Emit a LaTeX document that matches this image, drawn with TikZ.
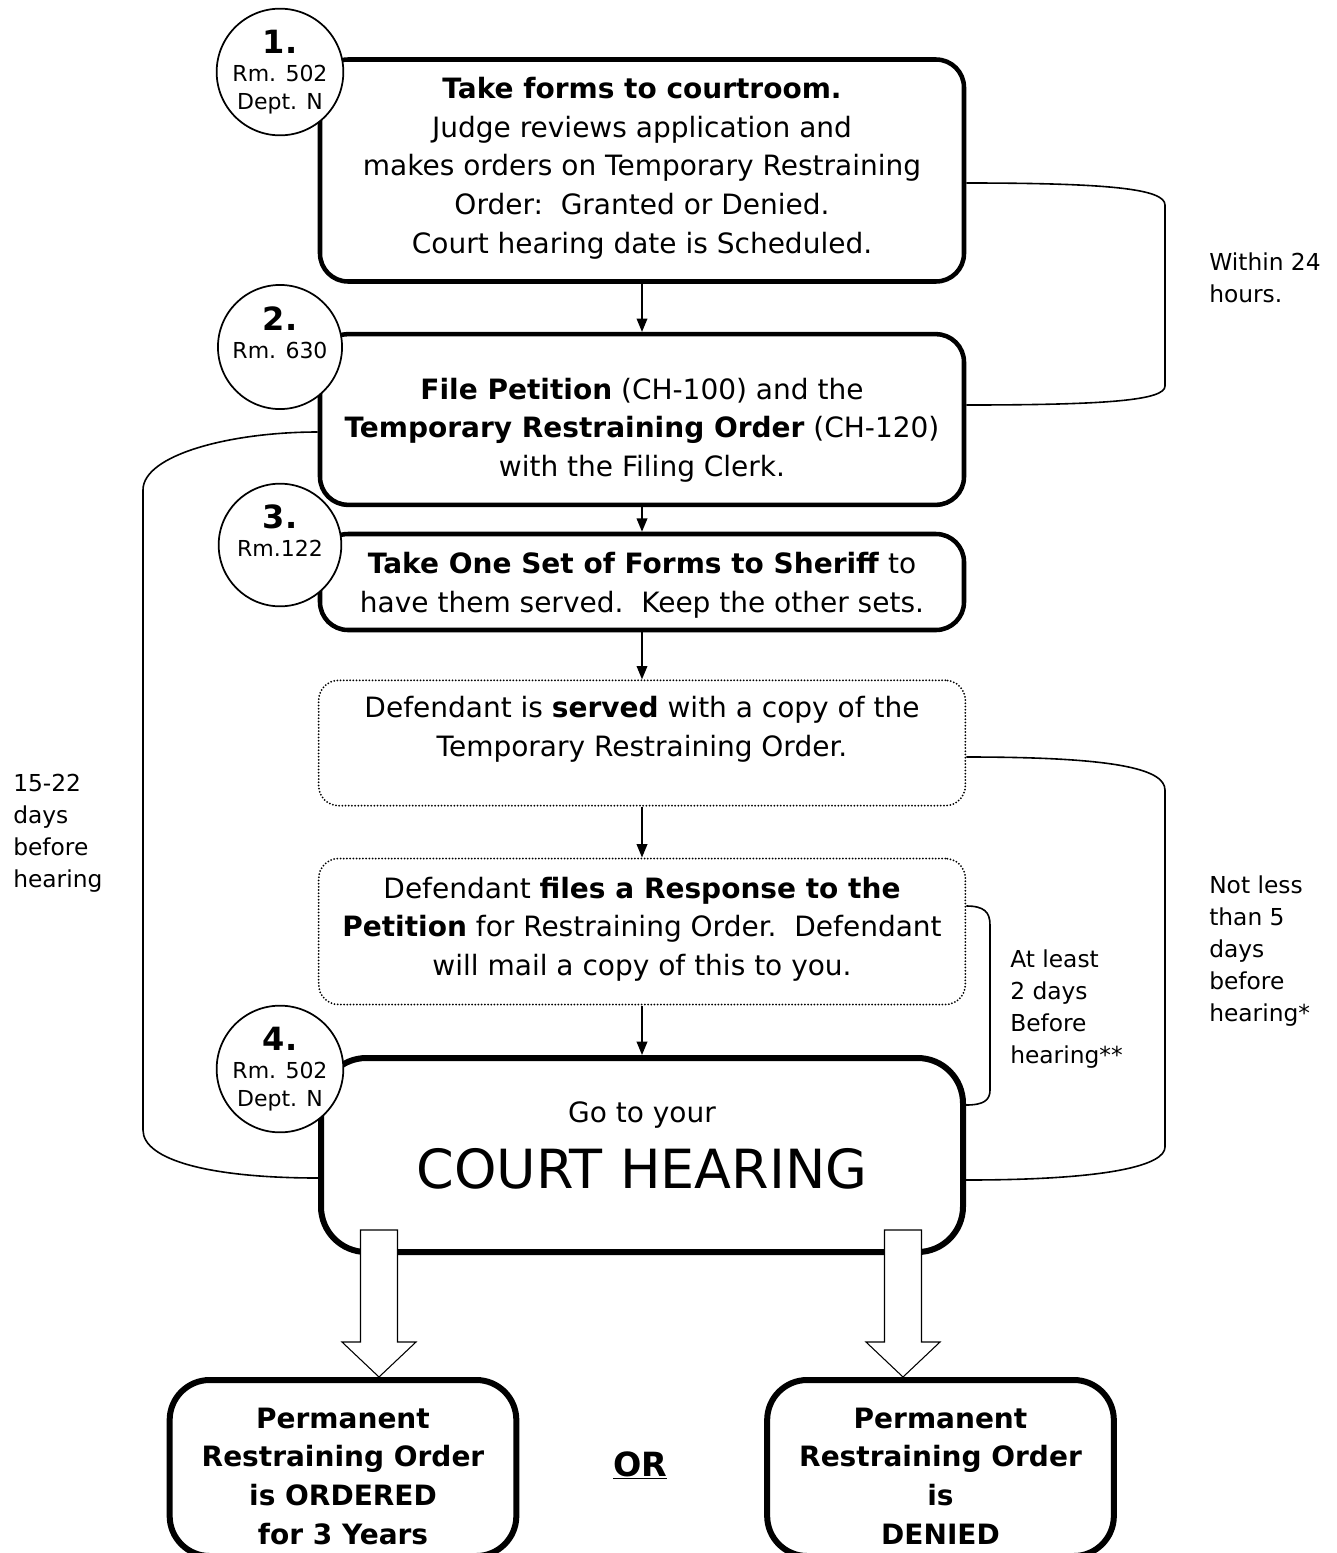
\documentclass[tikz,border=0pt]{standalone}
\usepackage{fontspec}
\setmainfont{DejaVu Sans}
\usetikzlibrary{arrows.meta,calc}

\newcommand{\blockdown}[2]{\draw [black, fill=white, line width=0.8pt] ($(#1)+(-18.5,0)$) -- ($(#1)+(18.5,0)$) -- ($(#2)+(18.5,-35)$) -- ($(#2)+(37,-35)$) -- (#2) -- ($(#2)+(-37,-35)$) -- ($(#2)+(-18.5,-35)$) -- cycle;}

\begin{document}
\begin{tikzpicture}[x=0.75pt,y=-0.75pt]
                \tikzstyle{every node}+=[inner sep=0pt]
                \tikzstyle{stepbox}=[draw, fill=white, rounded corners=21pt, line width=3.4pt, minimum width=483pt]
                \tikzstyle{dotbox}=[draw, rounded corners=15pt, line width=1.5pt, dash pattern=on 0pt off 2.4pt, line cap=round, minimum width=485pt]
                \tikzstyle{hearbox}=[draw, rounded corners=34pt, line width=4.5pt, minimum width=481.5pt, minimum height=145.5pt]
                \tikzstyle{resultbox}=[draw, rounded corners=30pt, line width=4.5pt, minimum width=260pt, minimum height=132pt]
                \tikzstyle{boxtext}=[align=center, font=\fontsize{21}{29}\selectfont]
                \tikzstyle{room}=[draw, circle, fill=white, line width=1.3pt, minimum size=92pt, align=center, font=\fontsize{16.5}{21}\selectfont]
                \tikzstyle{note}=[anchor=west, align=left, font=\fontsize{17.5}{24}\selectfont]
                \tikzstyle{flow}=[-{Triangle[length=10pt,width=8pt]}, line width=1.1pt]
                \tikzstyle{brace}=[line width=1.2pt]
                \useasboundingbox (0,0) rectangle (1337,1553);
                \clip (0,0) rectangle (1337,1553);
                \node [stepbox, minimum height=166.5pt] (take) at (642,170.5) {};
                \node [boxtext] (taketext) at (642,168) {\textbf{Take forms to courtroom.}\\Judge reviews application and\\makes orders on Temporary Restraining\\Order:\ \ Granted or Denied.\\Court hearing date is Scheduled.};
                \node [stepbox, minimum height=128pt] (file) at (642,419.5) {};
                \node [boxtext] (filetext) at (642,430) {\textbf{File Petition} (CH-100) and the\\\textbf{Temporary Restraining Order} (CH-120)\\with the Filing Clerk.};
                \node [stepbox, minimum height=72pt] (sheriff) at (642,582) {};
                \node [boxtext] (sherifftext) at (642,585) {\textbf{Take One Set of Forms to Sheriff} to\\have them served.\ \ Keep the other sets.};
                \node [dotbox, minimum height=94pt] (served) at (642,743) {};
                \node [boxtext] (servedtext) at (642,729) {Defendant is \textbf{served} with a copy of the\\Temporary Restraining Order.};
                \node [dotbox, minimum height=109.5pt] (response) at (642,931.5) {};
                \node [boxtext] (responsetext) at (642,929) {Defendant \textbf{files a Response to the}\\\textbf{Petition} for Restraining Order.\ \ Defendant\\will mail a copy of this to you.};
                \node [hearbox] (hearing) at (642,1155) {};
                \node [anchor=base, font=\fontsize{21}{29}\selectfont] (goto) at (642,1122) {Go to your};
                \node [anchor=base, font=\fontsize{40.5}{49}\selectfont] (court) at (642,1188) {COURT HEARING};
                \node [resultbox] (ordered) at (343,1468) {};
                \node [boxtext, font=\fontsize{21}{29}\selectfont\bfseries] (orderedtext) at (343,1476) {Permanent\\Restraining Order\\is ORDERED\\for 3 Years};
                \node [resultbox] (denied) at (940.5,1468) {};
                \node [boxtext, font=\fontsize{21}{29}\selectfont\bfseries] (deniedtext) at (940.5,1476) {Permanent\\Restraining Order\\is\\DENIED};
                \node [anchor=base, font=\fontsize{25}{30}\selectfont\bfseries] (or) at (640,1476) {\underline{OR}};
                \draw [flow] (take) -- (file);
                \draw [flow] (file) -- (sheriff);
                \draw [flow] (sheriff) -- (served);
                \draw [flow] (served) -- (response);
                \draw [flow] (response) -- (hearing);
                \coordinate (w1) at (take.east |- 0,183);
                \coordinate (w2) at (file.east |- 0,405);
                \draw [brace] (w1) .. controls (1110,183) and (1165,189) .. (1165,205) -- (1165,386) .. controls (1165,400) and (1110,405) .. (w2);
                \coordinate (d1) at (file.west |- 0,432);
                \coordinate (d2) at (hearing.west |- 0,1178);
                \draw [brace] (d1) .. controls (230,432) and (143,455) .. (143,490) -- (143,1130) .. controls (143,1160) and (210,1178) .. (d2);
                \coordinate (n1) at (served.east |- 0,757);
                \coordinate (n2) at (hearing.east |- 0,1180);
                \draw [brace] (n1) .. controls (1110,757) and (1165,768) .. (1165,790) -- (1165,1147) .. controls (1165,1165) and (1110,1180) .. (n2);
                \coordinate (a1) at (response.east |- 0,906);
                \coordinate (a2) at (hearing.east |- 0,1105);
                \draw [brace] (a1) .. controls (984,906) and (990,912) .. (990,925) -- (990,1090) .. controls (990,1100) and (984,1105) .. (a2);
                \node [note] (within) at (1209,278) {Within 24\\hours.};
                \node [note] (days) at (13,833) {15-22\\days\\before\\hearing};
                \node [note] (atleast) at (1010,1009) {At least\\2 days\\Before\\hearing**};
                \node [note] (notless) at (1209,951) {Not less\\than 5\\days\\before\\hearing*};
                \node [room] (room1) at (280,72) {{\fontsize{24}{24}\selectfont\bfseries 1.}\\Rm. 502\\Dept. N};
                \node [room] (room2) at (280,347) {{\fontsize{24}{24}\selectfont\bfseries 2.}\\Rm. 630\\\mbox{}};
                \node [room] (room3) at (280,545) {{\fontsize{24}{24}\selectfont\bfseries 3.}\\Rm.122\\\mbox{}};
                \node [room] (room4) at (280,1069) {{\fontsize{24}{24}\selectfont\bfseries 4.}\\Rm. 502\\Dept. N};
                \coordinate (fromL) at (379,1230);
                \coordinate (toL) at (ordered.north -| fromL);
                \coordinate (fromR) at (903,1230);
                \coordinate (toR) at (denied.north -| fromR);
                \blockdown{fromL}{toL}
                \blockdown{fromR}{toR}
            \end{tikzpicture}
\end{document}
